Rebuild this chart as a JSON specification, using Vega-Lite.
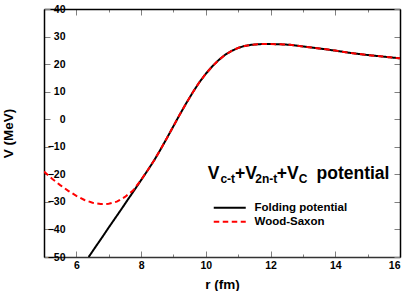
{
  "$schema": "https://vega.github.io/schema/vega-lite/v6.json",
  "width": 356,
  "height": 248,
  "autosize": {"type": "none"},
  "padding": {"left": 44, "top": 9, "right": 15, "bottom": 34},
  "background": "white",
  "config": {
    "view": {"stroke": null},
    "font": "Liberation Sans",
    "axis": {
      "grid": false,
      "domainColor": "#000000",
      "domainWidth": 1.5,
      "tickColor": "#808080",
      "tickWidth": 1,
      "labelFont": "Liberation Sans",
      "labelFontWeight": "bold",
      "labelFontSize": 10.5,
      "labelColor": "#000000",
      "titleFont": "Liberation Sans",
      "titleFontWeight": "bold",
      "titleFontSize": 13.5,
      "titleColor": "#000000"
    }
  },
  "datasets": {
    "curves": [
      {"series": "Folding potential", "r": 6.38, "V": -50},
      {"series": "Folding potential", "r": 6.6, "V": -46.2},
      {"series": "Folding potential", "r": 6.8, "V": -42.8},
      {"series": "Folding potential", "r": 7.0, "V": -39.3},
      {"series": "Folding potential", "r": 7.2, "V": -35.9},
      {"series": "Folding potential", "r": 7.4, "V": -32.5},
      {"series": "Folding potential", "r": 7.6, "V": -29.0},
      {"series": "Folding potential", "r": 7.8, "V": -25.6},
      {"series": "Folding potential", "r": 8.0, "V": -22.1},
      {"series": "Folding potential", "r": 8.2, "V": -18.6},
      {"series": "Folding potential", "r": 8.4, "V": -15.0},
      {"series": "Folding potential", "r": 8.6, "V": -11.0},
      {"series": "Folding potential", "r": 8.8, "V": -6.8},
      {"series": "Folding potential", "r": 9.0, "V": -2.5},
      {"series": "Folding potential", "r": 9.2, "V": 1.8},
      {"series": "Folding potential", "r": 9.4, "V": 5.9},
      {"series": "Folding potential", "r": 9.6, "V": 9.8},
      {"series": "Folding potential", "r": 9.8, "V": 13.4},
      {"series": "Folding potential", "r": 10.0, "V": 16.5},
      {"series": "Folding potential", "r": 10.2, "V": 19.2},
      {"series": "Folding potential", "r": 10.4, "V": 21.5},
      {"series": "Folding potential", "r": 10.6, "V": 23.4},
      {"series": "Folding potential", "r": 10.8, "V": 24.8},
      {"series": "Folding potential", "r": 11.0, "V": 25.9},
      {"series": "Folding potential", "r": 11.2, "V": 26.6},
      {"series": "Folding potential", "r": 11.4, "V": 27.0},
      {"series": "Folding potential", "r": 11.6, "V": 27.2},
      {"series": "Folding potential", "r": 11.8, "V": 27.3},
      {"series": "Folding potential", "r": 12.0, "V": 27.3},
      {"series": "Folding potential", "r": 12.3, "V": 27.2},
      {"series": "Folding potential", "r": 12.6, "V": 27.0},
      {"series": "Folding potential", "r": 13.0, "V": 26.4},
      {"series": "Folding potential", "r": 13.5, "V": 25.7},
      {"series": "Folding potential", "r": 14.0, "V": 24.9},
      {"series": "Folding potential", "r": 14.5, "V": 24.0},
      {"series": "Folding potential", "r": 15.0, "V": 23.3},
      {"series": "Folding potential", "r": 15.5, "V": 22.7},
      {"series": "Folding potential", "r": 16.0, "V": 22.1},
      {"series": "Wood-Saxon", "r": 5.0, "V": -19.0},
      {"series": "Wood-Saxon", "r": 5.25, "V": -21.6},
      {"series": "Wood-Saxon", "r": 5.5, "V": -23.9},
      {"series": "Wood-Saxon", "r": 5.75, "V": -26.0},
      {"series": "Wood-Saxon", "r": 6.0, "V": -27.8},
      {"series": "Wood-Saxon", "r": 6.25, "V": -29.3},
      {"series": "Wood-Saxon", "r": 6.5, "V": -30.3},
      {"series": "Wood-Saxon", "r": 6.75, "V": -30.8},
      {"series": "Wood-Saxon", "r": 7.0, "V": -30.7},
      {"series": "Wood-Saxon", "r": 7.25, "V": -29.9},
      {"series": "Wood-Saxon", "r": 7.5, "V": -28.2},
      {"series": "Wood-Saxon", "r": 7.75, "V": -25.9},
      {"series": "Wood-Saxon", "r": 8.0, "V": -22.0},
      {"series": "Wood-Saxon", "r": 8.2, "V": -18.6},
      {"series": "Wood-Saxon", "r": 8.4, "V": -15.0},
      {"series": "Wood-Saxon", "r": 8.6, "V": -11.0},
      {"series": "Wood-Saxon", "r": 8.8, "V": -6.8},
      {"series": "Wood-Saxon", "r": 9.0, "V": -2.5},
      {"series": "Wood-Saxon", "r": 9.2, "V": 1.8},
      {"series": "Wood-Saxon", "r": 9.4, "V": 5.9},
      {"series": "Wood-Saxon", "r": 9.6, "V": 9.8},
      {"series": "Wood-Saxon", "r": 9.8, "V": 13.4},
      {"series": "Wood-Saxon", "r": 10.0, "V": 16.5},
      {"series": "Wood-Saxon", "r": 10.2, "V": 19.2},
      {"series": "Wood-Saxon", "r": 10.4, "V": 21.5},
      {"series": "Wood-Saxon", "r": 10.6, "V": 23.4},
      {"series": "Wood-Saxon", "r": 10.8, "V": 24.8},
      {"series": "Wood-Saxon", "r": 11.0, "V": 25.9},
      {"series": "Wood-Saxon", "r": 11.2, "V": 26.6},
      {"series": "Wood-Saxon", "r": 11.4, "V": 27.0},
      {"series": "Wood-Saxon", "r": 11.6, "V": 27.2},
      {"series": "Wood-Saxon", "r": 11.8, "V": 27.3},
      {"series": "Wood-Saxon", "r": 12.0, "V": 27.3},
      {"series": "Wood-Saxon", "r": 12.3, "V": 27.2},
      {"series": "Wood-Saxon", "r": 12.6, "V": 27.0},
      {"series": "Wood-Saxon", "r": 13.0, "V": 26.4},
      {"series": "Wood-Saxon", "r": 13.5, "V": 25.7},
      {"series": "Wood-Saxon", "r": 14.0, "V": 24.9},
      {"series": "Wood-Saxon", "r": 14.5, "V": 24.0},
      {"series": "Wood-Saxon", "r": 15.0, "V": 23.3},
      {"series": "Wood-Saxon", "r": 15.5, "V": 22.7},
      {"series": "Wood-Saxon", "r": 16.0, "V": 22.1}
    ],
    "labelMain": [
      {"t": "V", "r": 10.06, "V": -21.8},
      {"t": "+V", "r": 10.9, "V": -21.8},
      {"t": "+V", "r": 12.19, "V": -21.8},
      {"t": "potential", "r": 13.42, "V": -21.8}
    ],
    "labelSub": [
      {"t": "c-t", "r": 10.45, "V": -23.3},
      {"t": "2n-t", "r": 11.53, "V": -23.3},
      {"t": "C", "r": 12.87, "V": -23.3}
    ]
  },
  "resolve": {"axis": {"x": "independent", "y": "independent"}},
  "layer": [
    {
      "data": {"name": "curves"},
      "mark": {"type": "line", "strokeWidth": 2, "clip": true},
      "encoding": {
        "x": {
          "field": "r", "type": "quantitative",
          "scale": {"domain": [5, 16], "nice": false, "zero": false},
          "axis": {
            "orient": "bottom",
            "values": [5, 6, 7, 8, 9, 10, 11, 12, 13, 14, 15, 16],
            "tickSize": {"condition": {"test": "datum.value % 2 === 0", "value": -6}, "value": -3},
            "labelExpr": "datum.value % 2 === 0 ? datum.label : ''",
            "labelPadding": 9,
            "domainColor": "#333333",
            "title": "r (fm)",
            "titleX": 178,
            "titleY": 27,
            "titleAlign": "center",
            "titleBaseline": "middle"
          }
        },
        "y": {
          "field": "V", "type": "quantitative",
          "scale": {"domain": [-50, 40], "nice": false, "zero": false},
          "axis": {
            "orient": "left",
            "values": [-50, -40, -30, -20, -10, 0, 10, 20, 30, 40],
            "tickSize": -6,
            "labelPadding": -15,
            "title": "V (MeV)",
            "titleX": -36,
            "titleY": 124,
            "titleAngle": 270,
            "titleAlign": "center",
            "titleBaseline": "middle"
          }
        },
        "color": {
          "field": "series", "type": "nominal",
          "scale": {"domain": ["Folding potential", "Wood-Saxon"], "range": ["#000000", "#ff0000"]},
          "legend": {
            "orient": "none", "legendX": 180, "legendY": 193, "title": null,
            "symbolType": "M-4,0H4", "symbolSize": 64, "symbolStrokeWidth": 2,
            "labelFontSize": 11.5, "labelFontWeight": "bold", "labelColor": "#000000",
            "labelFont": "Liberation Sans", "labelOffset": 19, "rowPadding": 1, "padding": 0
          }
        },
        "strokeDash": {
          "field": "series", "type": "nominal",
          "scale": {"domain": ["Folding potential", "Wood-Saxon"], "range": [[1, 0], [5.5, 3.5]]},
          "legend": {
            "orient": "none", "legendX": 180, "legendY": 193, "title": null,
            "symbolType": "M-4,0H4", "symbolSize": 64, "symbolStrokeWidth": 2,
            "labelFontSize": 11.5, "labelFontWeight": "bold", "labelColor": "#000000",
            "labelFont": "Liberation Sans", "labelOffset": 19, "rowPadding": 1, "padding": 0
          }
        }
      }
    },
    {
      "data": {"name": "labelMain"},
      "mark": {"type": "text", "align": "left", "baseline": "alphabetic", "fontSize": 17.5, "fontWeight": "bold", "font": "Liberation Sans", "color": "#000000"},
      "encoding": {
        "x": {
          "field": "r", "type": "quantitative",
          "axis": {
            "orient": "top",
            "values": [5, 6, 7, 8, 9, 10, 11, 12, 13, 14, 15, 16],
            "tickSize": {"condition": {"test": "datum.value % 2 === 0", "value": -6}, "value": -3},
            "labels": false, "title": null
          }
        },
        "y": {
          "field": "V", "type": "quantitative",
          "axis": {
            "orient": "right",
            "values": [-50, -40, -30, -20, -10, 0, 10, 20, 30, 40],
            "tickSize": -6,
            "labels": false, "title": null
          }
        },
        "text": {"field": "t"}
      }
    },
    {
      "data": {"name": "labelSub"},
      "mark": {"type": "text", "align": "left", "baseline": "alphabetic", "fontSize": 12, "fontWeight": "bold", "font": "Liberation Sans", "color": "#000000"},
      "encoding": {
        "x": {"field": "r", "type": "quantitative", "axis": null},
        "y": {"field": "V", "type": "quantitative", "axis": null},
        "text": {"field": "t"}
      }
    }
  ]
}
